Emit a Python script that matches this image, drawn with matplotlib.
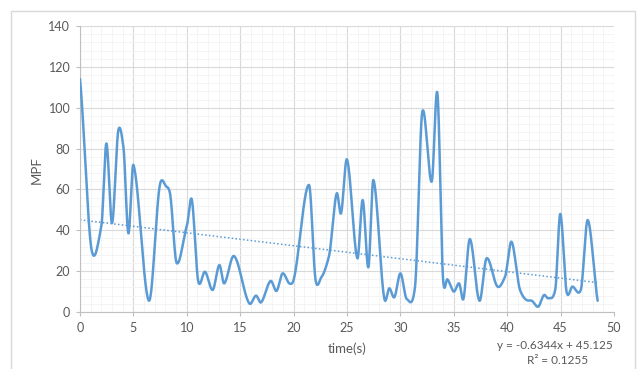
import numpy as np
import matplotlib.pyplot as plt
from matplotlib.patches import Rectangle

# values (time in s, MPF)
time_s = [0, 1.1, 2.0, 2.47, 3.0, 3.59, 4.06, 4.53, 5.0, 6.46, 7.49, 8.1, 8.43,
          9.05, 10.0, 10.46, 11.08, 11.7, 12.42, 13.05, 13.5, 14.42, 15.85, 16.48,
          16.95, 17.85, 18.4, 18.97, 19.6, 20.0, 21.44, 22.07, 22.6, 23.3, 24.03,
          24.44, 25.0, 25.97, 26.47, 27.0, 27.47, 28.5, 28.96, 29.43, 30.0, 30.59,
          31.37, 32.05, 32.93, 33.46, 34.0, 34.4, 35.0, 35.5, 35.9, 36.5, 37.4,
          38.07, 39.1, 39.8, 40.4, 41.2, 41.8, 42.3, 42.9, 43.45, 43.85, 44.5,
          44.97, 45.57, 46.1, 46.9, 47.54, 48.47]
mpf = [114, 30, 42, 82.5, 43.5, 89, 81, 38.5, 72, 5.5, 62.5, 61.3, 58,
       24, 42, 55.2, 14.8, 19.7, 10.8, 23, 14, 27.4, 4.2, 8,
       4.7, 15.2, 10.3, 18.9, 14, 15.7, 62.2, 15.2, 17, 27, 58,
       48.3, 74.7, 26.3, 54.8, 21.9, 64.6, 6.4, 11.6, 7.2, 18.9, 6.4,
       12.4, 98, 63.8, 107.3, 15.7, 16, 10, 14, 6.4, 35.7, 5.5,
       26.3, 12.4, 17.3, 34.4, 10.8, 5.9, 5.5, 2.6, 8.3, 6.7, 11,
       48, 9.6, 12.4, 11, 45, 5.5]
slope, intercept = -0.6344, 45.125


def smooth(x, y, n=30, tension=0.7):
    # cubic hermite with catmull-rom style tangents (like excel's smoothed line)
    x = np.asarray(x, float)
    y = np.asarray(y, float)
    m = np.zeros_like(y)
    m[1:-1] = (y[2:] - y[:-2]) / (x[2:] - x[:-2])
    m[0] = (y[1] - y[0]) / (x[1] - x[0])
    m[-1] = (y[-1] - y[-2]) / (x[-1] - x[-2])
    m *= tension
    xs, ys = [], []
    for i in range(len(x) - 1):
        h = x[i + 1] - x[i]
        s = np.linspace(0, 1, n, endpoint=False)
        h00 = 2 * s**3 - 3 * s**2 + 1
        h10 = s**3 - 2 * s**2 + s
        h01 = -2 * s**3 + 3 * s**2
        h11 = s**3 - s**2
        xs.append(x[i] + s * h)
        ys.append(h00 * y[i] + h10 * h * m[i] + h01 * y[i + 1] + h11 * h * m[i + 1])
    xs.append([x[-1]])
    ys.append([y[-1]])
    return np.concatenate(xs), np.concatenate(ys)


W, H = 643, 369
fig = plt.figure(figsize=(W / 100, H / 100), dpi=100)
plt.rcParams['font.family'] = ['Lato', 'DejaVu Sans']
fig.patches.append(Rectangle((10.5 / W, -0.05), 624 / W, 1 - 10.5 / H + 0.05,
                             transform=fig.transFigure, fill=False,
                             edgecolor='#d9d9d9', linewidth=1))

ax = fig.add_axes([80 / W, (H - 312) / H, 534 / W, 286 / H])
blue = '#5b9bd5'
sx, sy = smooth(time_s, mpf)
ax.plot(sx, sy, color=blue, linewidth=1.8, solid_capstyle='round', zorder=3)
tx = np.array([0, time_s[-1]])
ax.plot(tx, slope * tx + intercept, color=blue, linewidth=1.1,
        linestyle=(0, (1, 1.5)), zorder=2)

ax.set_xlim(0, 50)
ax.set_ylim(0, 140)
ax.set_xticks(np.arange(0, 51, 5))
ax.set_yticks(np.arange(0, 141, 20))
ax.set_xticks(np.arange(0, 51, 1), minor=True)
ax.set_yticks(np.arange(0, 141, 4), minor=True)
ax.grid(which='major', color='#d9d9d9', linewidth=0.8)
ax.grid(which='minor', color='#f2f2f2', linewidth=0.6)
ax.set_axisbelow(True)
for side in ['top', 'right']:
    ax.spines[side].set_visible(False)
for side in ['left', 'bottom']:
    ax.spines[side].set_color('#bfbfbf')
    ax.spines[side].set_linewidth(0.8)
ax.tick_params(which='major', length=3, color='#bfbfbf', labelcolor='#595959',
               labelsize=9, pad=4)
ax.tick_params(which='minor', length=0)

fig.text(37 / W, 1 - 170 / H, 'MPF', rotation=90, ha='center', va='center',
         color='#595959', fontsize=9.5)
fig.text(347 / W, 1 - 349 / H, 'time(s)', ha='center', va='center',
         color='#595959', fontsize=9.5)
fig.text(613 / W, 1 - 345.5 / H, 'y = -0.6344x + 45.125', ha='right', va='center',
         color='#595959', fontsize=8.5)
fig.text(558 / W, 1 - 361 / H, 'R² = 0.1255', ha='center', va='center',
         color='#595959', fontsize=8.5)

fig.savefig('out.png', dpi=100, facecolor='white')
